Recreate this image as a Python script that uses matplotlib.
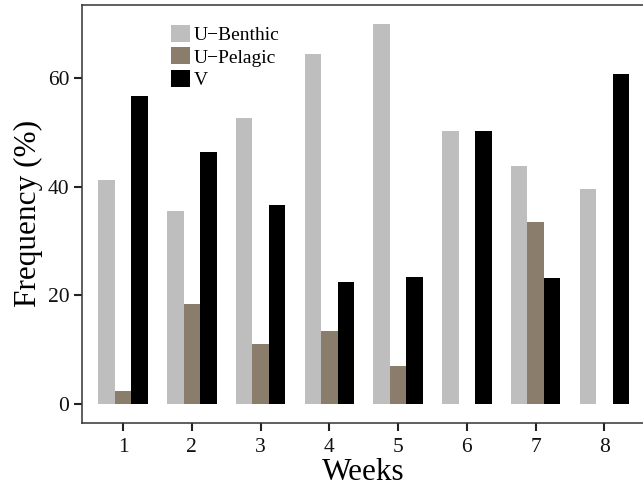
import numpy as np
import matplotlib
matplotlib.use("Agg")
import matplotlib.pyplot as plt

# Weekly frequencies (%)
weeks = ["1", "2", "3", "4", "5", "6", "7", "8"]
u_benthic = [41.2, 35.5, 52.6, 64.4, 70.0, 50.2, 43.8, 39.6]
u_pelagic = [2.4, 18.4, 11.0, 13.4, 7.0, 0.0, 33.5, 0.0]
v_values = [56.7, 46.4, 36.6, 22.4, 23.4, 50.2, 23.2, 60.7]

series_names = ["U\u2212Benthic", "U\u2212Pelagic", "V"]
series_colors = ["#BEBEBE", "#8B7D6B", "#000000"]

plt.rcParams["font.family"] = ["Liberation Serif", "DejaVu Serif"]

fig = plt.figure(figsize=(6.43, 4.90), dpi=100)
ax = fig.add_axes([0.1271, 0.1373, 0.877, 0.8524])

x = np.arange(1, len(weeks) + 1)
width = 0.24
for i, (vals, name, col) in enumerate(zip([u_benthic, u_pelagic, v_values],
                                          series_names, series_colors)):
    ax.bar(x + (i - 1) * width, vals, width=width, color=col,
           label=name, linewidth=0)

ax.set_xlim(0.4, 8.6)
ax.set_ylim(-3.5, 73.5)
ax.set_xticks(x)
ax.set_xticklabels(weeks)
ax.set_yticks([0, 20, 40, 60])

for side in ["left", "bottom", "top", "right"]:
    ax.spines[side].set_color("#333333")
    ax.spines[side].set_linewidth(1.1)

ax.tick_params(axis="both", direction="out", length=6, width=1.5,
               color="#222222", labelsize=15.5, labelcolor="#111111")
ax.tick_params(axis="x", pad=5)
ax.tick_params(axis="y", pad=3)

ax.set_xlabel("Weeks", fontsize=22.5, labelpad=1)
ax.set_ylabel("Frequency (%)", fontsize=22.5, labelpad=3)

ax.legend(loc="upper left", bbox_to_anchor=(0.1585, 0.952), frameon=False,
          fontsize=14, borderpad=0, labelspacing=0.17, handlelength=0.98,
          handleheight=0.95, handletextpad=0.2, borderaxespad=0)

fig.savefig("out.png", dpi=100)
